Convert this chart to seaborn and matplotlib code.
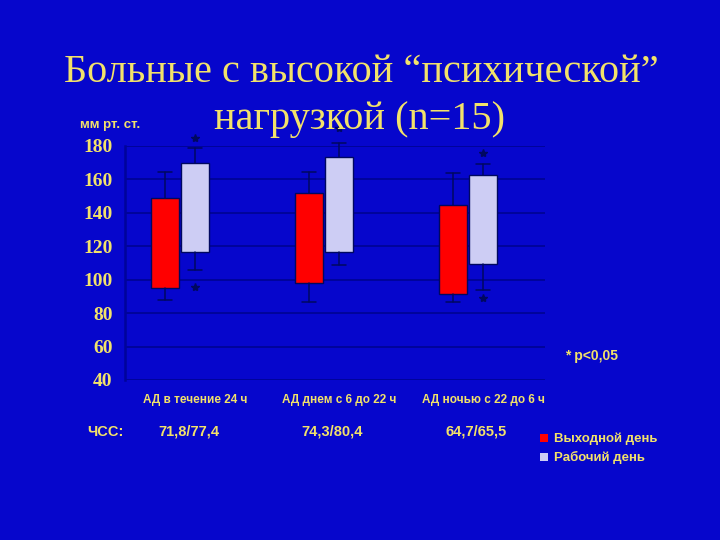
import numpy as np
import matplotlib
matplotlib.use("Agg")
import matplotlib.pyplot as plt
import matplotlib.transforms as mtransforms
from matplotlib.patches import Patch
import seaborn as sns

# ---- data ----
categories = ["АД в течение 24 ч", "АД днем с 6 до 22 ч", "АД ночью с 22 до 6 ч"]
series = ["Выходной день", "Рабочий день"]
hr_labels = ["71,8/77,4", "74,3/80,4", "64,7/65,5"]

# weekend (red)
off_whislo = [87.6, 86.6, 86.6]
off_q1 = [95.0, 98.2, 91.2]
off_q3 = [149.0, 152.0, 144.6]
off_whishi = [164.6, 164.6, 163.6]

# workday (lavender)
work_whislo = [105.6, 108.6, 94.0]
work_q1 = [116.6, 116.6, 109.2]
work_q3 = [170.0, 173.6, 162.6]
work_whishi = [179.0, 182.0, 169.4]

# significance marks (*)
work_star_hi = [184.8, 190.5, 175.8]
work_star_lo = [95.4, None, 88.8]

yticks = [40, 60, 80, 100, 120, 140, 160, 180]

# ---- style ----
BG = "#0606CC"
YEL = "#F2E26A"
GRID = "#00039A"
RED = "#FF0000"
LAV = "#CDCDF4"
DARK = "#000860"

sns.set_theme(style="white", rc={
    "figure.facecolor": BG, "axes.facecolor": BG, "savefig.facecolor": BG,
})
plt.rcParams["font.family"] = ["Liberation Sans", "DejaVu Sans"]

fig = plt.figure(figsize=(7.2, 5.4), dpi=100)
ax = fig.add_axes([125/720, 1-380/540, 420/720, 234/540])

x = np.arange(len(categories))
off = 0.104
w = 0.2

def stats(lo, q1, q3, hi, fl):
    out = []
    for i in range(len(lo)):
        out.append(dict(med=q1[i], q1=q1[i], q3=q3[i], whislo=lo[i], whishi=hi[i],
                        fliers=[v for v in fl[i] if v is not None]))
    return out

off_stats = stats(off_whislo, off_q1, off_q3, off_whishi, [[] for _ in categories])
work_stats = stats(work_whislo, work_q1, work_q3, work_whishi,
                   [[a, b] for a, b in zip(work_star_hi, work_star_lo)])

common = dict(widths=w, patch_artist=True, showfliers=True, manage_ticks=False,
              medianprops=dict(linewidth=0),
              whiskerprops=dict(color=DARK, linewidth=1.1),
              capprops=dict(color=DARK, linewidth=1.1),
              flierprops=dict(marker="*", markersize=6, markerfacecolor=DARK,
                              markeredgecolor=DARK, linestyle="none"))
b1 = ax.bxp(off_stats, positions=x - off, **common,
            boxprops=dict(facecolor=RED, edgecolor=DARK, linewidth=1.0))
b2 = ax.bxp(work_stats, positions=x + off, **common,
            boxprops=dict(facecolor=LAV, edgecolor=DARK, linewidth=1.0))
for art in b1["fliers"] + b2["fliers"] + b1["whiskers"] + b2["whiskers"] + b1["caps"] + b2["caps"]:
    art.set_clip_on(False)

ax.set_xlim(-0.382, 2.535)
ax.set_ylim(40, 180)
ax.set_yticks(yticks)
ax.set_yticklabels([str(t) for t in yticks], family="Liberation Serif",
                   fontweight="bold", fontsize=14, color=YEL)
for t in yticks:
    ax.axhline(t, color=GRID, linewidth=1.4, zorder=0)
ax.tick_params(axis="y", length=0, pad=9)
ax.set_xticks(x)
ax.set_xticklabels(categories, fontsize=8.5, fontweight="bold", color=YEL)
ax.tick_params(axis="x", length=0, pad=10)
shift = mtransforms.ScaledTranslation(15/100, 0, fig.dpi_scale_trans)
for lbl in ax.get_xticklabels():
    lbl.set_transform(lbl.get_transform() + shift)
for s in ["top", "right", "bottom"]:
    ax.spines[s].set_visible(False)
ax.spines["left"].set_color(GRID)
ax.spines["left"].set_linewidth(1.8)

# title
fig.text(361/720, 1-72/540, "Больные с высокой “психической”", ha="center", va="center",
         family="Liberation Serif", fontsize=29, color=YEL)
fig.text(359/720, 1-120/540, "нагрузкой (n=15)", ha="center", va="center",
         family="Liberation Serif", fontsize=29, color=YEL, zorder=0)
fig.text(110/720, 1-125/540, "мм рт. ст.", ha="center", va="center",
         fontsize=9.5, fontweight="bold", color=YEL)

# HR row
fig.text(105/720, 1-432/540, "ЧСС:", ha="center", va="center",
         fontsize=10.5, fontweight="bold", color=YEL)
tr = mtransforms.blended_transform_factory(ax.transData, fig.transFigure)
for i, lab in enumerate(hr_labels):
    ax.text(x[i] + 0.06, 1-432/540, lab, transform=tr, ha="center", va="center",
            fontsize=10.5, fontweight="bold", color=YEL)

fig.text(565/720, 1-356/540, "* p<0,05", ha="left", va="center",
         fontsize=10, fontweight="bold", color=YEL)

handles = [Patch(facecolor=RED, edgecolor="none"), Patch(facecolor=LAV, edgecolor="none")]
leg = fig.legend(handles, series, loc="upper left", bbox_to_anchor=(528/720, 1-421/540),
                 frameon=False, handlelength=0.6, handleheight=0.6, handletextpad=0.45,
                 labelspacing=0.45, prop=dict(weight="bold", size=9.5))
for t in leg.get_texts():
    t.set_color(YEL)

fig.savefig("out.png", dpi=100, facecolor=BG)
